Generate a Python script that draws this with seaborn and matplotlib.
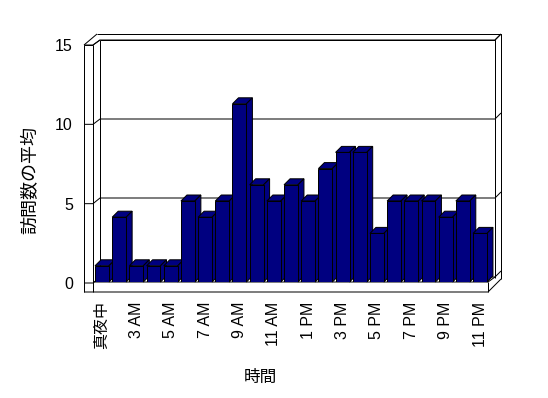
import numpy as np
import pandas as pd
import matplotlib
matplotlib.use("Agg")
import matplotlib.pyplot as plt
import seaborn as sns
from matplotlib.patches import Polygon

# ---- data ----
hours = ['真夜中', '1 AM', '3 AM', '4 AM', '5 AM', '6 AM', '7 AM', '8 AM', '9 AM',
         '10 AM', '11 AM', '正午', '1 PM', '2 PM', '3 PM', '4 PM', '5 PM', '6 PM',
         '7 PM', '8 PM', '9 PM', '10 PM', '11 PM']
visits = [1, 4, 1, 1, 1, 5, 4, 5, 11, 6, 5, 6, 5, 7, 8, 8, 3, 5, 5, 5, 4, 5, 3]
shown_labels = [h if i % 2 == 0 else '' for i, h in enumerate(hours)]
yticks = [0, 5, 10, 15]
ylabel = '訪問数の平均'
xlabel = '時間'

df = pd.DataFrame({'hour': hours, 'visits': visits})

W, H = 548, 398
fig = plt.figure(figsize=(W / 100, H / 100), dpi=100)
fig.patch.set_facecolor('white')
LW = 0.72
LAT = ['Liberation Sans', 'Noto Sans CJK JP']
JP = ['Noto Sans CJK JP', 'Liberation Sans']

# overlay for 3D box decorations (pixel coords)
ov = fig.add_axes([0, 0, 1, 1], zorder=0)
ov.set_xlim(0, W)
ov.set_ylim(H, 0)
ov.axis('off')

def seg(pts):
    xs, ys = zip(*pts)
    ov.plot(xs, ys, color='black', lw=LW, solid_capstyle='butt')

# front plane left axis mapping: 0 -> 283, 15 -> 45
def fy(v):
    return 283 - v * (283 - 45) / 15.0
# back wall mapping: 0 -> 277, 15 -> 40
def by(v):
    return 277 - v * (277 - 40) / 15.0

# back wall outer frame
seg([(97, 34), (501, 34), (501, 279)])
seg([(100, 40), (495, 40), (495, 278)])
seg([(495, 40), (501, 34)])
# left wall
seg([(84, 45), (84, 292)])
seg([(93, 45), (93, 292)])
seg([(100, 40), (100, 277)])
seg([(84, 45), (93, 45)])
seg([(84, 45), (97, 34)])
seg([(93, 45), (100, 40)])
# gridlines + ticks
for v in yticks:
    seg([(84, fy(v)), (93, fy(v)), (100, by(v)), (495, by(v)), (501, by(v) - 6)])
# floor
seg([(84, 292), (488, 292), (501, 279)])
seg([(93, 282), (488, 282), (495, 277)])
seg([(488, 282), (488, 292)])

# main axes for bars: 0 -> 282px, 16.2 px/unit
x_left, x_right = 93.4, 488.6
y0_px = 282.0
ppu = 16.2
top_px = y0_px - 15 * ppu
ax = fig.add_axes([x_left / W, (H - y0_px) / H, (x_right - x_left) / W, (y0_px - top_px) / H], zorder=1)
ax.set_facecolor('none')

sns.barplot(data=df, x='hour', y='visits', order=hours, color='#000080', saturation=1,
            width=0.81, edgecolor='black', linewidth=LW, ax=ax)
ax.set_xlim(-0.5, len(hours) - 0.5)
ax.set_ylim(0, 15)

cat_px = (x_right - x_left) / len(hours)
ddx = 6.0 / cat_px
ddy = 6.0 / ppu
for p in list(ax.patches):
    p.set_zorder(3)
    x0 = p.get_x(); w = p.get_width(); h = p.get_height(); x1 = x0 + w
    top = Polygon([(x0, h), (x0 + ddx, h + ddy), (x1 + ddx, h + ddy), (x1, h)], closed=True,
                  facecolor='#000080', edgecolor='black', lw=LW, zorder=2, clip_on=False)
    side = Polygon([(x1, 0), (x1, h), (x1 + ddx, h + ddy), (x1 + ddx, ddy)], closed=True,
                   facecolor='#000080', edgecolor='black', lw=LW, zorder=2, clip_on=False)
    ax.add_patch(top)
    ax.add_patch(side)

for s in ax.spines.values():
    s.set_visible(False)
ax.set_yticks([])
ax.set_xticks(range(len(hours)))
ax.set_xticklabels(shown_labels, rotation=90, fontsize=11.5, family=LAT)
ax.tick_params(axis='x', length=0, pad=14)
ax.set_xlabel('')
ax.set_ylabel('')

# front-plane y axis labels
ax2 = fig.add_axes([84 / W, (H - 283) / H, 9 / W, (283 - 45) / H], zorder=2)
ax2.set_facecolor('none')
ax2.set_ylim(0, 15)
ax2.set_xlim(0, 1)
ax2.set_yticks(yticks)
ax2.set_yticklabels([str(v) for v in yticks], fontsize=11.5, family=LAT)
ax2.set_xticks([])
ax2.tick_params(axis='y', length=0, pad=8)
for s in ax2.spines.values():
    s.set_visible(False)

fig.text(30 / W, 1 - 180 / H, ylabel, rotation=90, ha='center', va='center', fontsize=13, family=JP)
fig.text(260 / W, 1 - 377 / H, xlabel, ha='center', va='center', fontsize=12, family=JP)

fig.savefig('out.png', dpi=100, facecolor='white')
